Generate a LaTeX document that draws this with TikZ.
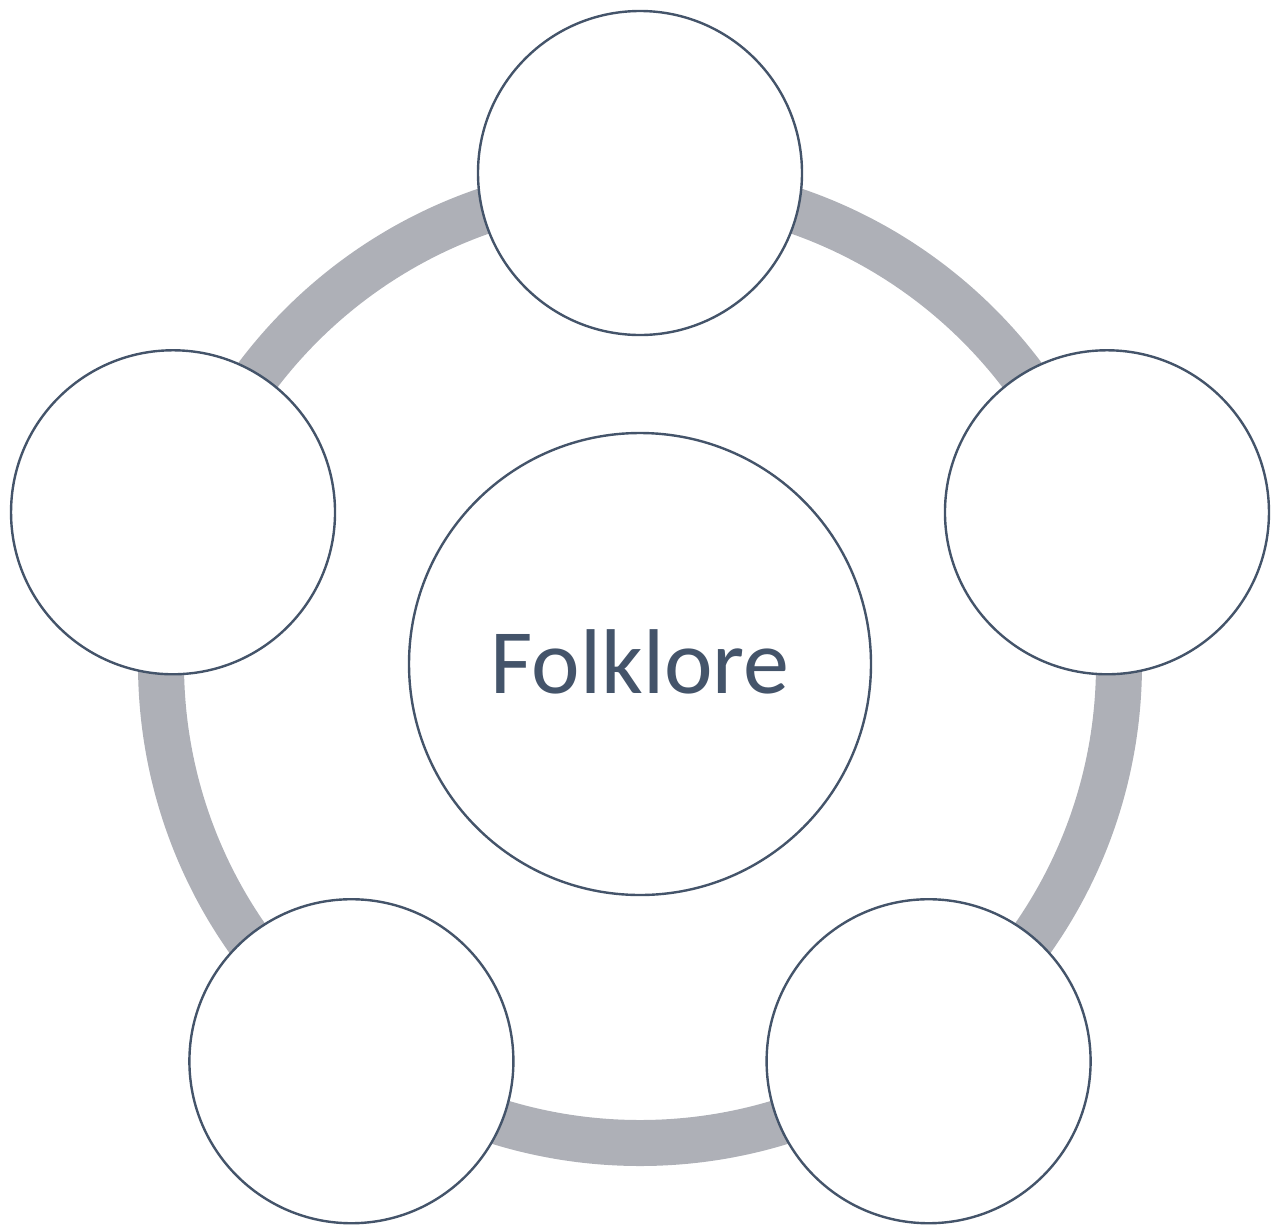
\documentclass[tikz,border=0pt]{standalone}
\usepackage{fontspec}
\setmainfont{Carlito}
\usetikzlibrary{calc}
\definecolor{edge}{HTML}{44546A}
\definecolor{ring}{HTML}{AEB0B7}
\begin{document}
\begin{tikzpicture}[x=1pt,y=-1pt,
  sat/.style={circle,draw=edge,line width=2.4pt,fill=white,minimum size=324pt,inner sep=0pt},
  hub/.style={circle,draw=edge,line width=2.4pt,fill=white,minimum size=462pt,inner sep=0pt}]
\useasboundingbox (0,0) rectangle (1277,1224);
\coordinate (c) at (640,664);
\draw[ring,line width=46pt] (c) circle[radius=479pt];
\node[hub] (hub) at (c) {};
\node[text=edge,font=\fontsize{92}{100}\selectfont,anchor=base] (lbl) at (640,693) {Folklore};
\foreach \a/\n in {90/s1,18/s2,-54/s3,-126/s4,162/s5}{
  \node[sat] (\n) at ($(c)+(\a:491pt)$) {};
}
\end{tikzpicture}
\end{document}
